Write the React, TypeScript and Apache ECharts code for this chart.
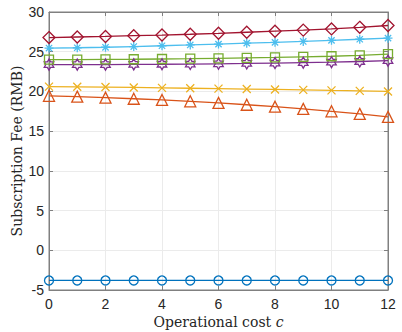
import React, { useEffect, useRef } from "react";
import * as echarts from "echarts";

const costs = [0, 1, 2, 3, 4, 5, 6, 7, 8, 9, 10, 11, 12];
const blueCircle = [-3.8, -3.8, -3.8, -3.8, -3.8, -3.8, -3.8, -3.8, -3.8, -3.8, -3.8, -3.8, -3.8];
const orangeTriangle = [19.45, 19.35, 19.22, 19.08, 18.93, 18.76, 18.56, 18.32, 18.08, 17.8, 17.5, 17.17, 16.8];
const yellowCross = [20.6, 20.58, 20.55, 20.5, 20.45, 20.4, 20.35, 20.3, 20.25, 20.2, 20.13, 20.07, 20.0];
const purpleHexagram = [23.38, 23.38, 23.38, 23.4, 23.42, 23.45, 23.48, 23.52, 23.57, 23.62, 23.68, 23.77, 23.87];
const greenSquare = [24.0, 24.0, 24.03, 24.05, 24.08, 24.12, 24.17, 24.22, 24.28, 24.35, 24.43, 24.55, 24.7];
const cyanStar = [25.46, 25.5, 25.56, 25.65, 25.75, 25.85, 25.96, 26.08, 26.18, 26.29, 26.43, 26.57, 26.71];
const redDiamond = [26.78, 26.85, 26.92, 27.02, 27.1, 27.2, 27.32, 27.45, 27.58, 27.72, 27.87, 28.07, 28.3];

const xTicks = { min: 0, max: 12, interval: 2 };
const yTicks = { min: -5, max: 30, interval: 5 };

const HEX = "path://M0,-1L0.289,-0.5L0.866,-0.5L0.577,0L0.866,0.5L0.289,0.5L0,1L-0.289,0.5L-0.866,0.5L-0.577,0L-0.866,-0.5L-0.289,-0.5Z";
const STAR = "path://M0,-1L0,1M-1,0L1,0M-0.7,-0.7L0.7,0.7M-0.7,0.7L0.7,-0.7";
const XMARK = "path://M-1,-1L1,1M-1,1L1,-1";

export default function App() {
  const ref = useRef<HTMLDivElement>(null);
  useEffect(() => {
    if (!ref.current) return;
    const chart = echarts.init(ref.current, undefined, { renderer: "svg" });
    const mk = (
      name: string,
      vals: number[],
      color: string,
      symbol: string,
      size: number
    ) => ({
      name,
      type: "line",
      data: costs.map((c, i) => [c, vals[i]]),
      symbol,
      symbolSize: size,
      symbolKeepAspect: true,
      showAllSymbol: true,
      lineStyle: { color, width: 1.3 },
      itemStyle: { color: "rgba(255,255,255,0)", borderColor: color, borderWidth: 1.3 },
      emphasis: { disabled: true },
    });
    const axisColor = "#808080";
    const serif = "DejaVu Serif, Liberation Serif, serif";
    const labelStyle = { color: "#262626", fontSize: 14, lineHeight: 14, fontFamily: "Liberation Sans, Arial, sans-serif" };
    const lineCfg = { show: true, onZero: false, lineStyle: { color: axisColor, width: 1 } };
    const tickCfg = { show: true, inside: true, length: 4, lineStyle: { color: axisColor } };
    chart.setOption({
      animation: false,
      grid: {
        left: 49,
        right: 14,
        top: 12,
        bottom: 42,
        containLabel: false,
        outerBoundsMode: "none",
        show: true,
        borderColor: axisColor,
        borderWidth: 1,
      },
      xAxis: [
        {
          type: "value",
          ...xTicks,
          position: "bottom",
          name: "Operational cost {i|c}",
          nameLocation: "middle",
          nameGap: 25,
          nameMoveOverlap: false,
          nameTextStyle: {
            color: "#262626",
            fontSize: 14,
            lineHeight: 14,
            fontFamily: serif,
            rich: { i: { fontStyle: "italic", fontSize: 14, lineHeight: 14, fontFamily: serif, color: "#262626" } },
          },
          axisLine: lineCfg,
          axisTick: tickCfg,
          axisLabel: { ...labelStyle, margin: 7 },
          splitLine: { show: true, lineStyle: { color: "#ebebeb", width: 1 } },
        },
        {
          type: "value",
          ...xTicks,
          position: "top",
          axisLine: lineCfg,
          axisTick: tickCfg,
          axisLabel: { show: false },
          splitLine: { show: false },
        },
      ],
      yAxis: [
        {
          type: "value",
          ...yTicks,
          position: "left",
          name: "Subscription Fee (RMB)",
          nameLocation: "middle",
          nameGap: 25,
          nameMoveOverlap: false,
          nameTextStyle: { color: "#262626", fontSize: 14, fontFamily: serif },
          axisLine: lineCfg,
          axisTick: tickCfg,
          axisLabel: { ...labelStyle, margin: 5 },
          splitLine: { show: true, lineStyle: { color: "#ebebeb", width: 1 } },
        },
        {
          type: "value",
          ...yTicks,
          position: "right",
          axisLine: lineCfg,
          axisTick: tickCfg,
          axisLabel: { show: false },
          splitLine: { show: false },
        },
      ],
      series: [
        mk("s1", blueCircle, "#0072BD", "circle", 9),
        mk("s2", orangeTriangle, "#D95319", "triangle", 11),
        mk("s3", yellowCross, "#EDB120", XMARK, 8),
        mk("s4", purpleHexagram, "#7E2F8E", HEX, 11),
        mk("s5", greenSquare, "#77AC30", "rect", 9),
        mk("s6", cyanStar, "#4DBEEE", STAR, 9),
        mk("s7", redDiamond, "#A2142F", "diamond", 12),
      ],
    });
    return () => chart.dispose();
  }, []);
  return <div ref={ref} style={{ width: 402, height: 332, position: "absolute", left: 0, top: 0 }} />;
}
